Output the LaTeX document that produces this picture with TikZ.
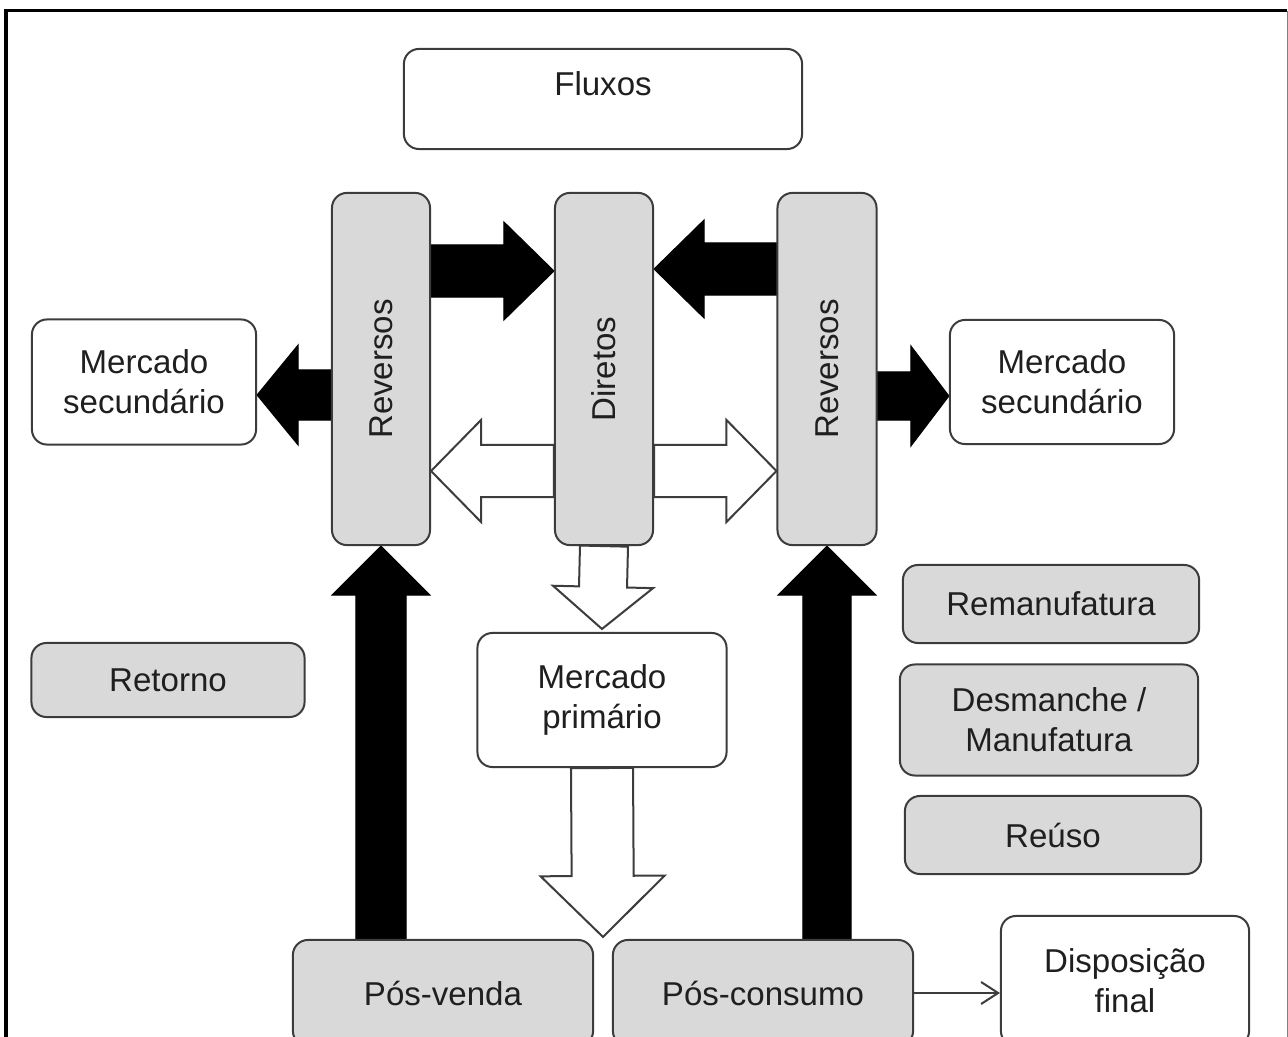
\documentclass[tikz,border=0pt]{standalone}
\usepackage{fontspec}
\setmainfont{Liberation Sans}
\usepackage{graphicx}
\usepackage{tikz}
\usetikzlibrary{shapes,arrows.meta,calc,backgrounds}
\definecolor{boxgray}{HTML}{D9D9D9}
\definecolor{edgegray}{HTML}{3C3C3C}
\tikzstyle{rounded box} = [rectangle, rounded corners=0.15cm, align=center, draw=edgegray, line width=0.02cm, font=\fontsize{9.4}{11.4}\selectfont, text=black!88]
\tikzstyle{gray box} = [rounded box, fill=boxgray]
\tikzstyle{white box} = [rounded box, fill=white]
\tikzstyle{black arrow} = [fill=black, draw=black, line width=0.01cm]
\tikzstyle{white arrow} = [fill=white, draw=edgegray, line width=0.02cm, line join=miter]
\tikzstyle{thin arrow} = [draw=edgegray, line width=0.02cm, -{Straight Barb[length=0.17cm,width=0.22cm]}]

% block arrow: style, start, end, half shaft, half head, head length
\newcommand{\blockarrow}[6]{%
  \coordinate (bah) at ($(#3)!#6!(#2)$);
  \draw[#1] ($(#2)!#4!90:(#3)$) -- ($(bah)!#4!-90:(#2)$) -- ($(bah)!#5!-90:(#2)$) -- (#3)
    -- ($(bah)!#5!90:(#2)$) -- ($(bah)!#4!90:(#2)$) -- ($(#2)!#4!-90:(#3)$) -- cycle;}

\begin{document}
\begin{tikzpicture}[x=0.01cm, y=-0.01cm]

    \useasboundingbox (0,0) rectangle (1288,1037);
    \clip (0,0) rectangle (1288,1037);

    % frame
    \draw[line width=0.03cm] (6,1040) -- (6,11) -- (1287,11);
    \draw[gray, line width=0.01cm] (1287,11) -- (1287,1040);

    \node (flux) [white box, minimum width=3.98cm, minimum height=1.0cm] at (603,99) { };
    \node (fluxt) [font=\fontsize{9.4}{11.4}\selectfont, text=black!88] at (603,84) {Fluxos};

    \node (revL) [gray box, minimum width=0.98cm, minimum height=3.52cm] at (381,369) {\rotatebox{90}{Reversos}};
    \node (dir) [gray box, minimum width=0.98cm, minimum height=3.52cm] at (604,369) {\rotatebox{90}{Diretos}};
    \node (revR) [gray box, minimum width=0.99cm, minimum height=3.52cm] at (827,369) {\rotatebox{90}{Reversos}};

    \node (msL) [white box, minimum width=2.24cm, minimum height=1.25cm] at (144,382) {Mercado\\secundário};
    \node (msR) [white box, minimum width=2.24cm, minimum height=1.24cm] at (1062,382) {Mercado\\secundário};

    \node (mp) [white box, minimum width=2.49cm, minimum height=1.34cm] at (602,700) {Mercado\\primário};

    \node (ret) [gray box, minimum width=2.73cm, minimum height=0.74cm] at (168,680) {Retorno};
    \node (rem) [gray box, minimum width=2.96cm, minimum height=0.78cm] at (1051,604) {Remanufatura};
    \node (desm) [gray box, minimum width=2.98cm, minimum height=1.11cm] at (1049,720) {Desmanche /\\Manufatura};
    \node (reuso) [gray box, minimum width=2.96cm, minimum height=0.78cm] at (1053,835) {Reúso};

    \node (posv) [gray box, minimum width=3.0cm, minimum height=1.06cm] at (443,993) {Pós-venda};
    \node (posc) [gray box, minimum width=3.0cm, minimum height=1.06cm] at (763,993) {Pós-consumo};
    \node (disp) [white box, minimum width=2.48cm, minimum height=1.3cm] at (1125,981) {Disposição\\final};

    \begin{pgfonlayer}{background}
    \fill[white] (0,0) rectangle (1288,1037);

    % black arrows
    \coordinate (a1) at ($(revL.east)+(0,-98)$);
    \coordinate (a1e) at (dir.west |- a1);
    \blockarrow{black arrow}{a1}{a1e}{0.26cm}{0.49cm}{0.5cm}
    \coordinate (a2) at ($(revR.west)+(0,-100)$);
    \coordinate (a2e) at (dir.east |- a2);
    \blockarrow{black arrow}{a2}{a2e}{0.26cm}{0.49cm}{0.5cm}
    \coordinate (a3) at ($(revL.west)+(0,26)$);
    \coordinate (a3e) at (msL.east |- a3);
    \blockarrow{black arrow}{a3}{a3e}{0.25cm}{0.5cm}{0.41cm}
    \coordinate (a4) at ($(revR.east)+(0,27)$);
    \coordinate (a4e) at (msR.west |- a4);
    \blockarrow{black arrow}{a4}{a4e}{0.24cm}{0.5cm}{0.38cm}
    \coordinate (a5) at (revL.south |- posv.north);
    \coordinate (a5e) at (revL.south);
    \blockarrow{black arrow}{a5}{a5e}{0.25cm}{0.49cm}{0.49cm}
    \coordinate (a6) at (revR.south |- posc.north);
    \coordinate (a6e) at (revR.south);
    \blockarrow{black arrow}{a6}{a6e}{0.24cm}{0.49cm}{0.49cm}

    % white arrows
    \coordinate (w1) at ($(dir.west)+(0,102)$);
    \coordinate (w1e) at (revL.east |- w1);
    \blockarrow{white arrow}{w1}{w1e}{0.26cm}{0.51cm}{0.5cm}
    \coordinate (w2) at ($(dir.east)+(0,102)$);
    \coordinate (w2e) at (revR.west |- w2);
    \blockarrow{white arrow}{w2}{w2e}{0.26cm}{0.51cm}{0.5cm}
    \coordinate (w3) at (dir.south);
    \coordinate (w3e) at ($(mp.north)+(0,-3)$);
    \blockarrow{white arrow}{w3}{w3e}{0.24cm}{0.5cm}{0.42cm}
    \coordinate (w4) at (mp.south);
    \coordinate (w4e) at ($(posv.north east)!0.5!(posc.north west)+(0,-2)$);
    \blockarrow{white arrow}{w4}{w4e}{0.31cm}{0.62cm}{0.61cm}
    \end{pgfonlayer}

    \draw[thin arrow] (posc.east) -- (disp.west |- posc.east);

\end{tikzpicture}
\end{document}
